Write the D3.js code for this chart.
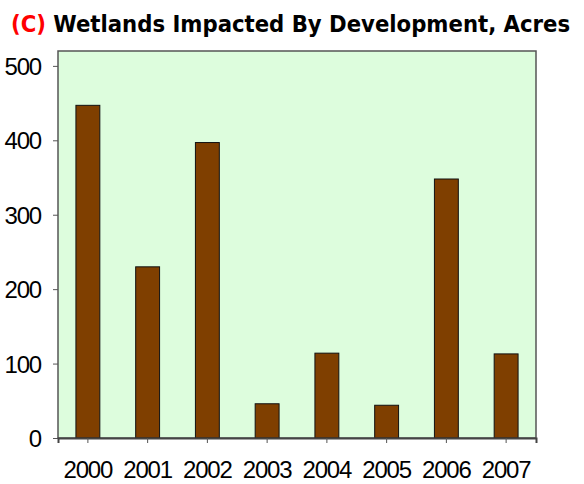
<!DOCTYPE html>
<html><head><meta charset="utf-8">
<script src="https://cdn.jsdelivr.net/npm/d3@7"></script>
<style>body{margin:0;background:#fff}</style>
</head><body>
<svg id="c" width="584" height="484"></svg>
<script>
const years = ["2000","2001","2002","2003","2004","2005","2006","2007"];
const acres = [447, 230, 397, 46, 114, 44, 348, 113];
const yTicks = [0, 100, 200, 300, 400, 500];

const svg = d3.select("#c");
const m = {left: 58, right: 48, top: 51, bottom: 46};
const W = 584, H = 484;
const x = d3.scaleBand().domain(years).range([m.left, W - m.right]).paddingInner(0.6).paddingOuter(0.3);
const y = d3.scaleLinear().domain([0, 520]).range([H - m.bottom, m.top]);

svg.append("rect").attr("x", m.left).attr("y", m.top)
  .attr("width", W - m.left - m.right).attr("height", H - m.top - m.bottom)
  .attr("fill", "#ddfddd").attr("stroke", "#555").attr("stroke-width", 1.5);

svg.selectAll(".bar").data(years).join("rect")
  .attr("x", d => x(d)).attr("width", x.bandwidth())
  .attr("y", (d, i) => y(acres[i])).attr("height", (d, i) => y(0) - y(acres[i]))
  .attr("fill", "#7f3f00").attr("stroke", "#111").attr("stroke-width", 1);

const fontLbl = "Liberation Sans, Arial, sans-serif";
const ya = svg.append("g").attr("transform", `translate(${m.left},0)`)
  .call(d3.axisLeft(y).tickValues(yTicks).tickSize(5).tickPadding(12));
ya.select(".domain").remove();
ya.selectAll("line").attr("stroke", "#555");
ya.selectAll("text").attr("font-family", fontLbl).attr("font-size", 24).attr("letter-spacing", -1.2).attr("fill", "#000").attr("dy", "0.36em");

const xa = svg.append("g").attr("transform", `translate(0,${H - m.bottom})`)
  .call(d3.axisBottom(x).tickSize(5).tickPadding(20));
xa.select(".domain").attr("stroke", "#444").attr("stroke-width", 2);
xa.selectAll("line").attr("stroke", "#555");
xa.selectAll("text").attr("font-family", fontLbl).attr("font-size", 24).attr("letter-spacing", -1.2).attr("fill", "#000").attr("dy", "0.62em");

const t = svg.append("text").attr("x", 11).attr("y", 32)
  .attr("font-family", "DejaVu Sans Condensed, DejaVu Sans, sans-serif").attr("font-size", 23.6).attr("font-weight", "bold");
t.append("tspan").attr("fill", "#ff0000").text("(C)");
t.append("tspan").attr("fill", "#000").text(" Wetlands Impacted By Development, Acres");
</script>
</body></html>
